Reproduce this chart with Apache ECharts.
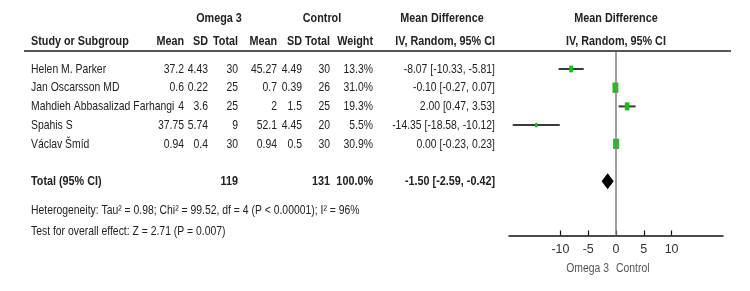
<!DOCTYPE html>
<html>
<head>
<meta charset="utf-8">
<script src="https://cdn.jsdelivr.net/npm/echarts@6/dist/echarts.min.js"></script>
<style>
html,body{margin:0;padding:0;background:#fff;}
#chart{width:750px;height:291px;}
</style>
</head>
<body>
<div id="chart"></div>
<script>
// ---------- data ----------
const studies = ['Helen M. Parker', 'Jan Oscarsson MD', 'Mahdieh Abbasalizad Farhangi', 'Spahis S', 'Václav Šmíd'];
const omegaMean = [37.2, 0.6, 4, 37.75, 0.94];
const omegaSD = [4.43, 0.22, 3.6, 5.74, 0.4];
const omegaN = [30, 25, 25, 9, 30];
const controlMean = [45.27, 0.7, 2, 52.1, 0.94];
const controlSD = [4.49, 0.39, 1.5, 4.45, 0.5];
const controlN = [30, 26, 25, 20, 30];
const weights = [13.3, 31.0, 19.3, 5.5, 30.9];
const md = [-8.07, -0.10, 2.00, -14.35, 0.00];
const ciLow = [-10.33, -0.27, 0.47, -18.58, -0.23];
const ciHigh = [-5.81, 0.07, 3.53, -10.12, 0.23];
const totalLabel = 'Total (95% CI)';
const totalOmegaN = 119;
const totalControlN = 131;
const totalWeight = 100.0;
const totalMD = -1.50, totalLow = -2.59, totalHigh = -0.42;
const tickValues = [-10, -5, 0, 5, 10];
const heterogeneity = 'Heterogeneity: Tau² = 0.98; Chi² = 99.52, df = 4 (P < 0.00001); I² = 96%';
const overallTest = 'Test for overall effect: Z = 2.71 (P = 0.007)';
const favLeft = 'Omega 3', favRight = 'Control';

// ---------- layout ----------
const FONT = "'Liberation Sans', Arial, sans-serif";
const FS = 13.5, FSB = 13.5;
const SX = 0.77, SXB = 0.8;
const COL = {name: 31, oMean: 184, oSD: 208, oN: 238, cMean: 277, cSD: 302, cN: 330, w: 373, ci: 495};
const ROW0 = 69, ROWH = 18.7;
const Y_LINE = 51, Y_AXIS = 235.5;
const Y_MIN = (Y_LINE + 1 - ROW0) / ROWH, Y_MAX = (Y_AXIS - ROW0) / ROWH;
const gridTop = ROW0 + Y_MIN * ROWH;
const gridBot = ROW0 + Y_MAX * ROWH;
const TOTAL_ROW = 6;
const TEXT = '#222';
const Y_GROUP = 18, Y_SUB = 41, Y_HET = 210.5, Y_TEST = 231.5, Y_FAV = 268;

const fmt2 = v => v.toFixed(2);
const ciText = (m, l, h) => fmt2(m) + ' [' + fmt2(l) + ', ' + fmt2(h) + ']';

const rows = studies.map((s, i) => ({
  y: i, bold: false,
  cells: [
    [COL.name, s, 'left'],
    [COL.oMean, String(omegaMean[i]), 'right'],
    [COL.oSD, String(omegaSD[i]), 'right'],
    [COL.oN, String(omegaN[i]), 'right'],
    [COL.cMean, String(controlMean[i]), 'right'],
    [COL.cSD, String(controlSD[i]), 'right'],
    [COL.cN, String(controlN[i]), 'right'],
    [COL.w, weights[i].toFixed(1) + '%', 'right'],
    [COL.ci, ciText(md[i], ciLow[i], ciHigh[i]), 'right']
  ]
}));
rows.push({
  y: TOTAL_ROW, bold: true,
  cells: [
    [COL.name, totalLabel, 'left'],
    [COL.oN, String(totalOmegaN), 'right'],
    [COL.cN, String(totalControlN), 'right'],
    [COL.w, totalWeight.toFixed(1) + '%', 'right'],
    [COL.ci, ciText(totalMD, totalLow, totalHigh), 'right']
  ]
});

function txt(x, y, text, align, bold, color) {
  return {
    type: 'text', x: x, y: y, silent: true,
    scaleX: bold ? SXB : SX,
    style: {text: text, textAlign: align, textVerticalAlign: 'middle', fontFamily: FONT,
      fontSize: bold ? FSB : FS, fontWeight: bold ? 'bold' : 'normal', fill: color || TEXT}
  };
}

const chart = echarts.init(document.getElementById('chart'), null, {renderer: 'canvas'});
chart.setOption({
  animation: false,
  backgroundColor: '#fff',
  grid: [
    {left: 0, right: 0, top: gridTop, height: gridBot - gridTop},
    {left: 509, right: 27, top: gridTop, height: gridBot - gridTop}
  ],
  xAxis: [
    {gridIndex: 0, type: 'value', min: 0, max: 750, show: false},
    {gridIndex: 1, type: 'value', min: -19.25, max: 19.25,
      axisLine: {show: true, onZero: false, lineStyle: {color: '#111', width: 1.5}},
      axisTick: {show: true, inside: true, length: 5, customValues: tickValues, lineStyle: {color: '#111', width: 1.2}},
      axisLabel: {show: true, customValues: tickValues, color: '#333', fontFamily: FONT, fontSize: 12.5, margin: 8},
      splitLine: {show: false}}
  ],
  yAxis: [
    {gridIndex: 0, type: 'value', inverse: true, min: Y_MIN, max: Y_MAX, show: false},
    {gridIndex: 1, type: 'value', inverse: true, min: Y_MIN, max: Y_MAX, show: false}
  ],
  graphic: [
    txt(219, Y_GROUP, 'Omega 3', 'center', true),
    txt(322, Y_GROUP, 'Control', 'center', true),
    txt(442, Y_GROUP, 'Mean Difference', 'center', true),
    txt(616, Y_GROUP, 'Mean Difference', 'center', true),
    txt(COL.name, Y_SUB, 'Study or Subgroup', 'left', true),
    txt(COL.oMean, Y_SUB, 'Mean', 'right', true),
    txt(COL.oSD, Y_SUB, 'SD', 'right', true),
    txt(COL.oN, Y_SUB, 'Total', 'right', true),
    txt(COL.cMean, Y_SUB, 'Mean', 'right', true),
    txt(COL.cSD, Y_SUB, 'SD', 'right', true),
    txt(COL.cN, Y_SUB, 'Total', 'right', true),
    txt(COL.w, Y_SUB, 'Weight', 'right', true),
    txt(COL.ci, Y_SUB, 'IV, Random, 95% CI', 'right', true),
    txt(616, Y_SUB, 'IV, Random, 95% CI', 'center', true),
    {type: 'line', silent: true, shape: {x1: 24, y1: Y_LINE, x2: 731, y2: Y_LINE}, style: {stroke: '#555', lineWidth: 2}},
    txt(COL.name, Y_HET, heterogeneity, 'left', false),
    txt(COL.name, Y_TEST, overallTest, 'left', false),
    txt(609, Y_FAV, favLeft, 'right', false, '#555'),
    txt(616, Y_FAV, favRight, 'left', false, '#555')
  ],
  series: [
    {
      type: 'custom', xAxisIndex: 0, yAxisIndex: 0, clip: false, silent: true,
      data: rows.map((r, k) => [k, r.y]),
      renderItem: function (params, api) {
        const r = rows[api.value(0)];
        const children = r.cells.map(c => {
          const p = api.coord([c[0], r.y]);
          return txt(p[0], p[1], c[1], c[2], r.bold);
        });
        return {type: 'group', children: children};
      }
    },
    {
      type: 'custom', xAxisIndex: 1, yAxisIndex: 1, clip: false, silent: true,
      data: studies.map((s, i) => [ciLow[i], ciHigh[i], i]),
      renderItem: function (params, api) {
        const a = api.coord([api.value(0), api.value(2)]);
        const b = api.coord([api.value(1), api.value(2)]);
        return {type: 'line', shape: {x1: a[0], y1: a[1], x2: b[0], y2: b[1]}, style: {stroke: '#3a3a3a', lineWidth: 2}};
      },
      markLine: {
        silent: true, symbol: 'none', animation: false,
        label: {show: false},
        lineStyle: {color: '#808080', width: 1.5, type: 'solid'},
        data: [{xAxis: 0}]
      }
    },
    {
      type: 'scatter', xAxisIndex: 1, yAxisIndex: 1, silent: true, symbol: 'rect',
      itemStyle: {color: '#14c214', opacity: 1},
      data: studies.map((s, i) => ({value: [md[i], i], symbolSize: [1.05 * Math.sqrt(weights[i]), 1.85 * Math.sqrt(weights[i])]}))
    },
    {
      type: 'custom', xAxisIndex: 1, yAxisIndex: 1, clip: false, silent: true,
      data: [[totalLow, totalMD, totalHigh, TOTAL_ROW]],
      renderItem: function (params, api) {
        const y = api.value(3);
        const l = api.coord([api.value(0), y]);
        const m = api.coord([api.value(1), y]);
        const h = api.coord([api.value(2), y]);
        const hh = 8;
        return {type: 'polygon', shape: {points: [[l[0], l[1]], [m[0], m[1] - hh], [h[0], h[1]], [m[0], m[1] + hh]]}, style: {fill: '#000'}};
      }
    }
  ]
});
</script>
</body>
</html>
